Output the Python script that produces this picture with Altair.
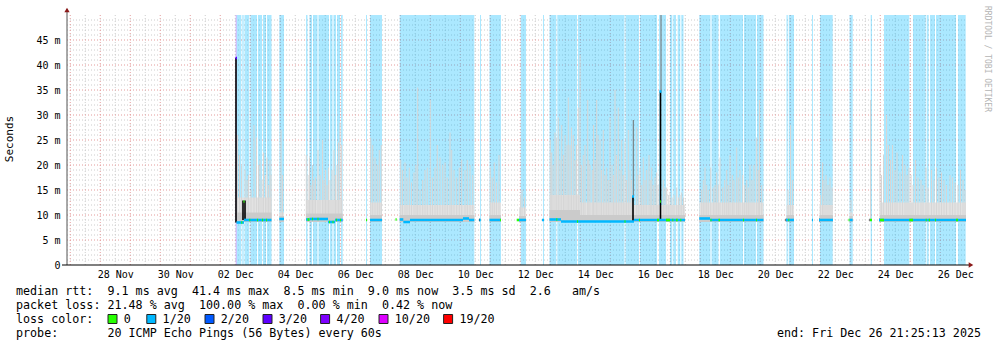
import json
import altair as alt
import pandas as pd

# ---------------- data ----------------
# time = hours since graph start (2025-11-26 21:25:13), values in milliseconds
X_TICK_HOURS = [38.58, 86.58, 134.58, 182.58, 230.58, 278.58, 326.58, 374.58,
                422.58, 470.58, 518.58, 566.58, 614.58, 662.58, 710.58]
X_TICK_LABELS = ["28 Nov", "30 Nov", "02 Dec", "04 Dec", "06 Dec", "08 Dec", "10 Dec",
                 "12 Dec", "14 Dec", "16 Dec", "18 Dec", "20 Dec", "22 Dec", "24 Dec", "26 Dec"]
Y_TICK_VALUES = [0, 5, 10, 15, 20, 25, 30, 35, 40, 45]
Y_TICK_LABELS = ["0\u00a0\u00a0", "5 m", "10 m", "15 m", "20 m", "25 m", "30 m", "35 m", "40 m", "45 m"]

LOSS_LEVELS = ["0", "1/20", "2/20", "3/20", "4/20", "10/20", "19/20"]
LOSS_COLORS = ["#26ff00", "#00b8ff", "#0059ff", "#5e00ff", "#7e00ff", "#dd00ff", "#ff0000"]

# loss background bands
BAND_START = [134.96, 135.76, 140.24, 142.0, 146.64, 152.8, 156.8, 160.0, 169.84,
              191.2, 194.0, 196.8, 201.2, 210.4, 213.2, 216.0, 219.2, 239.2, 242.4,
              266.16, 330.4, 338.0, 362.96, 380.8,
              386.0, 392.24, 408.8, 446.8, 458.4, 473.6, 482.4, 485.04, 488.56, 491.44,
              505.84, 515.6, 522.4, 541.6, 552.0, 575.6, 577.44, 596.0, 602.4, 626.0, 642.96,
              653.6, 676.8, 687.76, 690.4, 695.2, 712.8]
BAND_END = [135.76, 139.44, 141.36, 145.84, 152.0, 156.0, 159.2, 163.6, 173.6,
            192.4, 196.0, 200.4, 209.6, 212.4, 215.2, 218.4, 220.56, 240.0, 252.0,
            325.84, 331.2, 347.2, 367.2, 381.6,
            391.44, 408.0, 446.0, 457.6, 472.0, 479.2, 484.24, 487.2, 490.64, 493.2,
            514.8, 521.2, 540.8, 551.2, 557.2, 576.64, 581.6, 596.8, 612.56, 628.56, 644.0,
            673.84, 686.96, 689.36, 694.4, 711.2, 718.96]
BAND_LEVEL = ["4/20"] + ["1/20"] * 50

# smoke: continuous haze / dense parts per data stretch
HAZE_START = [135.6, 169.84, 191.2, 242.4, 266.16, 338.0, 361.6, 386.0, 410.4, 453.6, 505.84, 575.6, 602.0, 626.0, 650.4]
HAZE_END = [163.6, 173.6, 220.56, 252.0, 325.84, 347.2, 367.2, 410.4, 453.6, 494.4, 557.2, 581.6, 612.8, 628.56, 719.2]
HAZE_TOP = [13.5, 10.5, 13, 12.5, 12, 12.5, 11.5, 14, 12.5, 12, 12.5, 12, 12, 10.5, 12.5]
HAZE_DENSE = [10.5, 9.8, 10.3, 10, 10, 10, 9.8, 11, 10, 10, 10, 10, 10, 9.8, 10]

# smoke: individual high pings
SMOKE_HOUR = [
    136.4, 138.0, 139.6, 142.4, 144.0, 145.2, 147.2, 149.6, 151.6, 153.2, 154.4, 156.0, 157.2, 158.8, 160.0, 161.2, 162.4, 163.2,
    171.2, 172.4,
    191.44, 192.8, 194.0, 195.2, 196.4, 197.6, 198.8, 200.8, 202.4, 204.4, 205.6, 206.8, 208.0, 209.2, 210.4, 212.0, 213.6, 214.8, 216.0, 217.2, 218.4, 219.6,
    242.96, 244.56, 246.4, 248.24, 249.84, 251.44,
    266.96, 268.4, 270.4, 272.0, 273.84, 275.6, 277.6, 279.2, 280.56, 282.4, 284.56, 286.4, 288.24, 290.64, 292.4, 294.4,
    296.24, 298.4, 300.56, 302.4, 304.24, 306.4, 307.76, 309.6, 311.76, 313.84, 315.76, 318.4, 320.24, 322.4, 324.56,
    338.64, 340.24, 341.84, 343.6, 345.6,
    362.8, 364.0, 366.0,
    386.64, 387.76, 388.8, 390.4, 391.76, 393.04, 394.4, 395.76, 397.2, 398.4, 400.0, 401.04, 402.4, 403.6, 405.04, 406.4,
    407.6, 409.04, 410.4, 411.6, 413.04, 414.4, 416.56, 417.44, 418.4, 420.24, 421.2, 422.4, 423.76, 424.8, 426.4, 427.6,
    429.04, 430.4, 431.76, 433.04, 434.4, 436.0, 437.2, 438.4, 439.6, 441.04, 442.4, 443.76, 445.04, 446.4, 447.6, 449.04,
    450.4, 451.6, 455.76, 457.04, 458.4, 459.76, 461.04, 462.4, 463.76, 465.6, 466.64, 467.76, 469.04, 470.4, 471.76, 472.8,
    477.04, 478.4, 479.76, 481.04, 482.4, 484.0, 485.6, 487.76, 489.2, 490.4, 491.76, 493.2,
    507.76, 509.04, 510.4, 511.76, 513.04, 514.96, 517.04, 518.4, 519.76, 521.04, 522.4, 524.56, 526.16, 527.76, 529.04, 530.4,
    532.24, 533.6, 535.76, 537.04, 538.4, 540.56, 542.16, 543.76, 545.04, 546.4, 548.0, 549.6, 551.76, 553.04, 554.0, 555.76,
    576.8, 578.8, 580.4,
    602.8, 604.4, 605.6, 607.2, 608.8, 610.4, 612.0,
    627.2, 642.8,
    650.4, 651.6, 653.2, 655.6, 657.2, 658.8, 660.4, 662.4, 664.0, 666.4, 668.4, 670.4, 672.0, 673.6, 675.2, 676.8, 678.8, 680.8,
    683.2, 684.8, 687.2, 688.8, 691.6, 693.6, 695.6, 697.6, 699.6, 701.6, 703.6, 706.4, 708.4, 710.4, 712.8, 714.8, 716.8, 718.4]
SMOKE_TOP = [
    26, 22, 20, 19, 17, 18, 15, 28, 25.5, 20, 21, 17, 22.5, 18, 21.5, 16, 21, 18,
    27, 18,
    22, 18, 21.5, 16, 20, 17, 17.5, 23, 18, 25, 17, 19, 16, 19.5, 17, 19, 23, 18, 20, 24.5, 28.5, 24,
    25.5, 24, 21.5, 20, 23, 24,
    21, 19, 20.5, 17.5, 19.5, 16.5, 18.5, 20, 35.5, 15, 17, 19, 19.5, 33, 17.5, 19.5,
    24, 21.5, 20, 20.5, 17.5, 26.5, 23, 19, 17.5, 19.5, 21, 19, 21, 20, 18,
    19.5, 17.5, 20.5, 16.5, 22,
    14, 15, 13.5,
    25, 22.5, 20, 26.5, 25.5, 29.5, 21, 28, 22, 26, 24, 33.5, 24, 27.5, 26, 21,
    24, 31.5, 42, 20, 22, 24, 33, 21, 20, 19, 28, 21, 33, 26, 25, 19,
    27, 18, 19.5, 17, 29.5, 20, 18, 35, 22, 31.5, 19, 25, 18, 24.5, 17, 27,
    19, 17, 27.5, 18, 19.5, 16, 21.5, 17, 19, 22, 17, 19.5, 16, 17.5, 18.5, 16,
    17, 15.5, 15.5, 14, 14.5, 13.5, 14, 15.5, 13.5, 14, 14.5, 13.5,
    15, 17, 19.5, 16, 15, 19.5, 15.5, 16, 18.5, 16, 21.5, 15.5, 17, 19, 16, 22,
    18, 17, 23.5, 17.5, 19, 18, 16, 17, 15.5, 20, 17, 20, 25.5, 19, 33, 16,
    15, 28, 17,
    14, 20.5, 17, 18, 16, 17.5, 15.5,
    13, 33,
    20, 18, 22, 30, 24, 21, 24, 19, 22.5, 18.5, 22, 20, 18, 19.5, 18, 16, 21, 17.5,
    17, 16, 19.5, 15.5, 19, 17, 19.5, 17.5, 18.5, 17, 16, 18, 17.5, 16.5, 16, 19, 17, 15]

# median rtt, coloured by loss
MED_START = [135.6, 141.6, 169.84, 191.2, 194.0, 208.8, 214.4, 242.4, 266.16, 269.04, 274.4, 316.8, 321.6,
             329.84, 338.0, 361.6, 380.0, 386.0, 395.2, 453.6, 505.84, 514.4, 575.2, 596.0, 601.6, 626.0, 649.6,
             139.44, 141.2, 145.84, 152.0, 156.0, 159.2, 192.4, 196.0, 200.4, 209.6, 212.4, 215.2, 218.4, 239.2,
             262.8, 346.4, 359.76, 391.44, 408.0, 446.0, 457.6, 472.0, 474.56, 479.2, 484.24, 487.2, 490.64,
             514.8, 521.2, 540.8, 551.2, 577.04, 625.2, 642.4, 650.4, 673.84, 686.96, 689.36, 694.4, 711.2,
             134.8, 452.0, 474.0]
MED_END = [141.6, 163.6, 173.6, 194.0, 208.8, 214.4, 220.56, 252.0, 269.04, 274.4, 316.8, 321.6, 325.84,
           330.96, 347.2, 367.2, 381.6, 395.2, 453.6, 494.4, 514.4, 557.2, 581.6, 596.8, 612.8, 628.56, 719.2,
           140.24, 142.0, 146.64, 152.8, 156.8, 160.0, 194.0, 196.8, 201.2, 210.4, 213.2, 216.0, 219.2, 240.0,
           263.76, 347.2, 361.6, 392.24, 408.8, 446.8, 458.4, 473.6, 475.2, 482.4, 485.04, 488.56, 491.44,
           515.6, 522.4, 541.6, 552.0, 577.84, 626.0, 644.0, 653.6, 676.8, 687.76, 690.4, 695.2, 712.8,
           136.0, 453.6, 475.6]
MED_VALUE = [8.5, 9.0, 9.2, 9.1, 9.2, 8.6, 9.0, 9.0, 9.1, 8.6, 9.0, 9.3, 9.0,
             9.0, 9.0, 9.0, 9.0, 9.1, 8.7, 9.0, 9.3, 9.0, 9.0, 9.0, 9.0, 9.0, 9.0,
             8.5, 12.7, 9.0, 9.0, 9.0, 9.0, 9.1, 9.2, 9.2, 8.6, 8.6, 9.0, 9.0, 9.0,
             9.1, 9.0, 9.0, 9.1, 8.7, 8.7, 9.0, 9.0, 12.7, 9.0, 9.0, 9.0, 9.0,
             9.0, 9.0, 9.0, 9.0, 9.0, 9.0, 9.0, 9.0, 9.0, 9.0, 9.0, 9.0, 9.0,
             41.4, 13.7, 34.7]
MED_LOSS = ["1/20"] * 27 + ["0"] * 40 + ["3/20", "1/20", "1/20"]

# darkest smoke dots at the start of stretches
DARK_DOT_START = [329.6, 574.8, 601.6, 642.0, 649.6]
DARK_DOT_END = [330.4, 575.6, 602.4, 642.4, 650.4]
DARK_DOT_VALUE = [9.0, 9.0, 9.0, 9.0, 9.0]

# black rtt excursions
BLACK_HOUR = [135.2, 140.8, 142.4, 452.8, 474.8]
BLACK_LOW = [8.5, 9.0, 9.0, 8.6, 9.0]
BLACK_HIGH = [41.4, 12.9, 12.9, 13.7, 34.7]
GREY_HOUR = [453.04, 475.2]
GREY_LOW = [13.7, 34.7]
GREY_HIGH = [29, 50]

LEGEND_LINE1 = "median rtt:  9.1 ms avg  41.4 ms max  8.5 ms min  9.0 ms now  3.5 ms sd  2.6   am/s"
LEGEND_LINE2 = "packet loss: 21.48 % avg  100.00 % max  0.00 % min  0.42 % now"
LEGEND_LINE3 = "loss color:"
LEGEND_LINE4 = "probe:       20 ICMP Echo Pings (56 Bytes) every 60s"
END_TEXT = "end: Fri Dec 26 21:25:13 2025"
WATERMARK = "RRDTOOL / TOBI OETIKER"
Y_TITLE = "Seconds"

# ---------------- layout / style ----------------
W, H = 900, 250
MONO = "DejaVu Sans Mono"
LEGEND_SQ_X = [108, 146.8, 205, 263, 320.6, 379, 443.6]  # absolute px of the colour boxes
XS = alt.Scale(domain=[0, 720], nice=False, zero=False)
YS = alt.Scale(domain=[0, 50], nice=False, zero=False)


def nb(s):
    return s.replace(" ", "\u00a0")


x_axis = alt.Axis(values=X_TICK_HOURS,
                  labelExpr=json.dumps(X_TICK_LABELS) + "[round((datum.value - 38.58) / 48)]",
                  labelFont=MONO, labelFontSize=10, labelColor="#000", labelPadding=4,
                  labelBaseline="top", labelAngle=0, labelOverlap=False, labelFlush=False,
                  ticks=False, domain=False, grid=False, title=None)
y_axis = alt.Axis(values=Y_TICK_VALUES,
                  labelExpr=json.dumps(Y_TICK_LABELS, ensure_ascii=False) + "[round(datum.value / 5)]",
                  labelFont=MONO, labelFontSize=10, labelColor="#000", labelPadding=7,
                  labelOverlap=False, labelFlush=False,
                  ticks=False, domain=False, grid=False, title=None)


def X(f):
    return alt.X(f, type="quantitative", scale=XS, axis=x_axis)


def Y(f):
    return alt.Y(f, type="quantitative", scale=YS, axis=y_axis)


loss_scale = alt.Scale(domain=LOSS_LEVELS, range=LOSS_COLORS)
dummy = alt.Data(values=[{}])

minor_h = [v for v in range(1, 50) if v % 5]
major_h = list(range(5, 50, 5))
major_v = [2.58 + 24 * k for k in range(30)]
minor_v = [14.58 + 24 * k for k in range(30)]

layers = []
layers.append(alt.Chart(pd.DataFrame({"v": minor_h})).mark_rule(color="#cccccc", strokeDash=[1, 2], strokeWidth=1)
              .encode(y=Y("v"), x=alt.value(0), x2=alt.value(W)))
layers.append(alt.Chart(pd.DataFrame({"h": minor_v})).mark_rule(color="#cccccc", strokeDash=[1, 2], strokeWidth=1)
              .encode(x=X("h"), y=alt.value(0), y2=alt.value(H)))
layers.append(alt.Chart(pd.DataFrame({"v": major_h})).mark_rule(color="#e39a9a", strokeDash=[1, 2], strokeWidth=1)
              .encode(y=Y("v"), x=alt.value(0), x2=alt.value(W)))
layers.append(alt.Chart(pd.DataFrame({"h": major_v})).mark_rule(color="#e39a9a", strokeDash=[1, 2], strokeWidth=1)
              .encode(x=X("h"), y=alt.value(0), y2=alt.value(H)))

bands = pd.DataFrame({"start": BAND_START, "end": BAND_END, "level": BAND_LEVEL})
layers.append(alt.Chart(bands).mark_rect(opacity=0.33)
              .encode(x=X("start"), x2="end", y=alt.value(0), y2=alt.value(H),
                      color=alt.Color("level:N", scale=loss_scale, legend=None)))

haze = pd.DataFrame({"start": HAZE_START, "end": HAZE_END, "top": HAZE_TOP, "dense": HAZE_DENSE})
haze["low"] = 8.6
layers.append(alt.Chart(haze).mark_rect(color="#e2e2e2")
              .encode(x=X("start"), x2="end", y=Y("top"), y2="low"))

smoke = pd.DataFrame({"hour": SMOKE_HOUR, "top": SMOKE_TOP})
smoke["base"] = 9.0
layers.append(alt.Chart(smoke).mark_rule(color="#d6d6d6", strokeWidth=1)
              .encode(x=X("hour"), y=Y("top"), y2="base"))

layers.append(alt.Chart(haze).mark_rect(color="#cbcbcb")
              .encode(x=X("start"), x2="end", y=Y("dense"), y2="low"))

grey = pd.DataFrame({"hour": GREY_HOUR, "low": GREY_LOW, "high": GREY_HIGH})
layers.append(alt.Chart(grey).mark_rule(color="#707070", strokeWidth=1)
              .encode(x=X("hour"), y=Y("high"), y2="low"))

black = pd.DataFrame({"hour": BLACK_HOUR, "low": BLACK_LOW, "high": BLACK_HIGH})
layers.append(alt.Chart(black).mark_rule(color="#000000", strokeWidth=1.6)
              .encode(x=X("hour"), y=Y("high"), y2="low"))

dots = pd.DataFrame({"start": DARK_DOT_START, "end": DARK_DOT_END, "value": DARK_DOT_VALUE})
layers.append(alt.Chart(dots).mark_rule(color="#000000", strokeWidth=2.6)
              .encode(x=X("start"), x2="end", y=Y("value")))

med = pd.DataFrame({"start": MED_START, "end": MED_END, "value": MED_VALUE, "level": MED_LOSS})
layers.append(alt.Chart(med).mark_rule(strokeWidth=2.6)
              .encode(x=X("start"), x2="end", y=Y("value"),
                      color=alt.Color("level:N", scale=loss_scale, legend=None)))

# axes lines and arrows
layers.append(alt.Chart(dummy).mark_rule(color="#555555", strokeWidth=1)
              .encode(x=alt.value(0), y=alt.value(-6), y2=alt.value(H)))
layers.append(alt.Chart(dummy).mark_rule(color="#000000", strokeWidth=1)
              .encode(x=alt.value(-5), x2=alt.value(W + 2), y=alt.value(H)))
layers.append(alt.Chart(dummy).mark_point(shape="triangle-up", filled=True, size=28, color="#8b1a1a", opacity=1)
              .encode(x=alt.value(0), y=alt.value(-5)))
layers.append(alt.Chart(dummy).mark_point(shape="triangle-right", filled=True, size=28, color="#8b1a1a", opacity=1)
              .encode(x=alt.value(W + 4), y=alt.value(H)))


def text_layer(s, x, y, align="left", size=11.7, color="#000000", angle=0):
    return (alt.Chart(pd.DataFrame({"t": [nb(s)]}))
            .mark_text(font=MONO, fontSize=size, color=color, align=align, baseline="middle", angle=angle)
            .encode(text="t:N", x=alt.value(x), y=alt.value(y)))


L = 67
T = 15
layers.append(text_layer(LEGEND_LINE1, 16 - L, 291 - T))
layers.append(text_layer(LEGEND_LINE2, 16 - L, 305 - T))
layers.append(text_layer(LEGEND_LINE3, 16 - L, 319 - T))
layers.append(text_layer(LEGEND_LINE4, 16 - L, 333 - T))
layers.append(text_layer(END_TEXT, 981 - L, 333 - T, align="right"))
layers.append(text_layer(Y_TITLE, 10 - L, 139 - T, align="center", size=11, angle=270))
layers.append(text_layer(WATERMARK, 987 - L, 59 - T, align="center", size=8, color="#b4b4b4", angle=90))

leg = pd.DataFrame({"level": LOSS_LEVELS, "color": LOSS_COLORS})
leg["sx"] = [x - L for x in LEGEND_SQ_X]
leg["sx2"] = leg["sx"] + 9
leg["tx"] = leg["sx"] + 15.8
leg["sy"] = 314.5 - T
leg["sy2"] = 323.5 - T
leg["ty"] = 319 - T
layers.append(alt.Chart(leg).mark_rect(stroke="#222222", strokeWidth=1)
              .encode(x=alt.X("sx:Q", scale=None), x2="sx2", y=alt.Y("sy:Q", scale=None), y2="sy2",
                      color=alt.Color("color:N", scale=None)))
layers.append(alt.Chart(leg).mark_text(font=MONO, fontSize=11.7, color="#000", align="left", baseline="middle")
              .encode(x=alt.X("tx:Q", scale=None), y=alt.Y("ty:Q", scale=None), text="level:N"))

chart = (alt.layer(*layers)
         .properties(width=W, height=H, background="white",
                     padding={"left": 67, "top": 15, "right": 30, "bottom": 82},
                     autosize=alt.AutoSizeParams(type="none"))
         .configure_view(stroke=None))

chart.save("out.html", embed_options={"renderer": "svg", "actions": False})
